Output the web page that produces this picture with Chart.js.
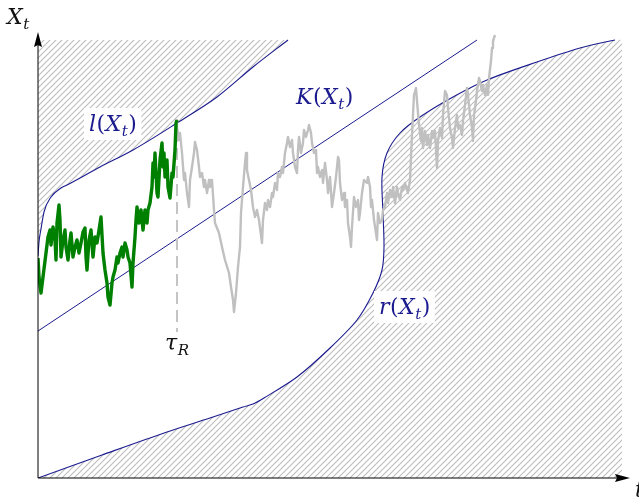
<!DOCTYPE html>
<html>
<head>
<meta charset="utf-8">
<script src="https://cdn.jsdelivr.net/npm/chart.js@4.4.1/dist/chart.umd.min.js"></script>
<style>
  html, body { margin: 0; padding: 0; background: #fff; }
</style>
</head>
<body>
<canvas id="chart" width="639" height="499"></canvas>
<script>
// time axis t and state X_t, both
const tMax = 592;
const xMax = 446;

// upper boundary l(X_t)
const lT = [0, 1, 3, 6, 13, 23, 29, 62, 95, 139, 179, 215, 250];
const lX = [222, 236, 249, 266, 281, 290, 293, 311, 328, 355, 381, 411, 438];

// lower boundary r(X_t), last point closes the hatched area on the right
const rT = [0, 64, 129, 172, 205, 215, 226, 259, 292, 319, 335, 344, 346, 345, 344, 349, 362, 382, 415, 449, 499, 542, 577, 584];
const rX = [0, 23, 46, 60, 71, 74, 80, 101, 130, 158, 185, 208, 231, 265, 301, 325, 345, 361, 381, 398, 416, 430, 438, 438];

// K(X_t)
const kT = [0, 439];
const kX = [147, 438];

// path up to tau_R (green)
const greenT = [0,1,3,5,8,10,12,13,15,17,18,19,21,22,23,25,27,28,30,32,33,35,37,39,41,43,45,47,48,49,51,53,55,57,59,61,63,65,67,69,70,72,74,75,77,79,80,82,84,85,87,89,90,92,94,95,97,98,99,101,103,104,105,107,109,110,112,114,115,116,117,119,120,122,124,125,126,127,129,130,132,134,135,137,138,139];
const greenX = [220,201,185,201,225,241,248,233,251,238,218,255,273,258,221,238,248,231,218,238,245,221,231,238,225,235,246,250,221,208,238,248,221,241,235,248,261,225,208,195,181,173,195,201,208,221,215,225,231,221,235,228,221,215,191,215,241,258,271,255,268,258,248,268,255,268,275,291,315,301,325,285,281,318,335,311,325,301,318,291,280,305,301,328,355,358];

// path after tau_R (gray)
const grayT = [139,139,141,142,144,146,147,149,151,152,154,156,157,159,161,162,164,166,167,169,171,172,174,176,177,181,184,187,191,193,195,196,198,200,202,203,205,207,208,209,211,213,215,217,219,221,224,225,227,229,230,232,234,235,237,239,240,242,244,245,247,249,250,252,254,255,257,259,260,261,263,265,266,268,270,271,273,274,276,278,279,280,282,284,285,287,289,290,292,294,296,298,300,301,302,304,306,307,309,310,312,313,314,316,318,320,321,322,324,326,329,330,332,333,334,336,338,339,340,342,344,345,347,349,350,352,354,355,357,359,360,362,364,365,367,369,370,372,374,376,378,379,381,383,384,385,387,389,390,392,394,395,397,399,400,402,404,405,407,409,410,412,414,415,417,419,420,422,424,425,427,429,430,432,434,435,436,438,439,441,442,444,445,447,449,450,451,453,454,455,457];
const grayX = [358,351,338,345,325,298,305,285,271,298,311,325,336,328,311,301,305,291,298,285,298,291,298,268,255,245,231,218,205,191,178,166,185,211,231,265,291,315,325,308,298,288,271,261,268,258,235,258,275,268,278,271,285,281,295,288,305,301,311,305,325,335,341,331,338,325,311,305,328,341,325,335,348,341,348,353,345,335,325,328,305,311,301,308,295,315,298,285,301,271,285,301,321,318,295,278,285,271,278,255,241,231,251,281,271,278,258,265,285,298,295,301,291,271,278,258,245,238,265,255,258,268,271,285,275,288,281,291,275,291,285,278,291,288,295,288,285,298,343,383,390,377,353,337,350,330,347,333,343,330,347,340,347,310,337,350,340,363,387,383,370,350,340,330,350,363,350,353,343,357,373,390,383,363,350,337,363,377,387,400,397,387,393,383,393,383,400,417,430,437,443];

// stopping time tau_R
const tauT = 139;
const tauX = [348, 146];

const blue = '#1b1b8f';
const serif = '"DejaVu Serif", "Liberation Serif", serif';
const pts = (ts, xs) => ts.map((t, i) => ({ x: t, y: xs[i] }));

function makeHatch(ctx) {
    const s = 6;
    const c = document.createElement('canvas');
    c.width = s; c.height = s;
    const g = c.getContext('2d');
    g.strokeStyle = '#bdbdbd';
    g.lineWidth = 1.1;
    g.beginPath();
    g.moveTo(0, s); g.lineTo(s, 0);
    g.moveTo(-1, 1); g.lineTo(1, -1);
    g.moveTo(s - 1, s + 1); g.lineTo(s + 1, s - 1);
    g.stroke();
    return ctx.createPattern(c, 'repeat');
}

// draws math like l(X_t): parts are [text, 'i' | 'r' | 's']
function mathText(ctx, x, y, parts, color, measureOnly) {
    let cx = x;
    parts.forEach(([txt, kind]) => {
        if (kind === 's') ctx.font = 'italic 15px ' + serif;
        else if (kind === 'i') ctx.font = 'italic 22px ' + serif;
        else ctx.font = '22px ' + serif;
        const w = ctx.measureText(txt).width;
        if (!measureOnly) {
            ctx.fillStyle = color;
            ctx.fillText(txt, cx, kind === 's' ? y + 5 : y);
        }
        cx += w + 0.5;
    });
    return cx - x;
}

const labels = [
    { t: 51, X: 347, parts: [['l', 'i'], ['(', 'r'], ['X', 'i'], ['t', 's'], [')', 'r']], color: blue, box: true },
    { t: 258, X: 374, parts: [['K', 'i'], ['(', 'r'], ['X', 'i'], ['t', 's'], [')', 'r']], color: blue, box: false },
    { t: 341, X: 164, parts: [['r', 'i'], ['(', 'r'], ['X', 'i'], ['t', 's'], [')', 'r']], color: blue, box: true },
    { t: 127, X: 128, parts: [['τ', 'i'], ['R', 's']], color: '#111', box: false },
    { t: -31, X: 454, parts: [['X', 'i'], ['t', 's']], color: '#111', box: false },
    { t: 597, X: -19, parts: [['t', 'i']], color: '#111', box: false }
];

const axesPlugin = {
    id: 'axesArrows',
    afterDatasetsDraw(chart) {
        const { ctx, scales: { x, y } } = chart;
        const x0 = x.getPixelForValue(0), y0 = y.getPixelForValue(0);
        const xe = x.getPixelForValue(tMax), ye = y.getPixelForValue(xMax);
        ctx.save();
        ctx.strokeStyle = '#000';
        ctx.fillStyle = '#000';
        ctx.lineWidth = 1;
        ctx.beginPath();
        ctx.moveTo(x0, y0); ctx.lineTo(xe - 10, y0);
        ctx.moveTo(x0, y0); ctx.lineTo(x0, ye + 10);
        ctx.stroke();
        ctx.beginPath();
        ctx.moveTo(xe, y0); ctx.lineTo(xe - 15, y0 - 4); ctx.lineTo(xe - 13, y0); ctx.lineTo(xe - 15, y0 + 4); ctx.closePath();
        ctx.fill();
        ctx.beginPath();
        ctx.moveTo(x0, ye); ctx.lineTo(x0 - 4, ye + 15); ctx.lineTo(x0, ye + 13); ctx.lineTo(x0 + 4, ye + 15); ctx.closePath();
        ctx.fill();

        labels.forEach(lb => {
            const px = x.getPixelForValue(lb.t), py = y.getPixelForValue(lb.X);
            if (lb.box) {
                const w = mathText(ctx, px, py, lb.parts, lb.color, true);
                ctx.fillStyle = '#fff';
                ctx.fillRect(px - 5, py - 23, w + 9, 32);
            }
            mathText(ctx, px, py, lb.parts, lb.color, false);
        });
        ctx.restore();
    }
};

const canvas = document.getElementById('chart');
const hatch = makeHatch(canvas.getContext('2d'));
const lastR = rT.length - 2;

new Chart(canvas, {
    type: 'line',
    data: {
        datasets: [
            { data: pts(greenT, greenX), borderColor: '#008000', borderWidth: 3.4, borderJoinStyle: 'round', order: 0 },
            { data: pts([tauT, tauT], tauX), borderColor: '#c4c4c4', borderWidth: 2, borderDash: [12, 6], order: 1 },
            { data: pts(grayT, grayX), borderColor: '#c0c0c0', borderWidth: 2.4, borderJoinStyle: 'round', order: 2 },
            { data: pts(kT, kX), borderColor: blue, borderWidth: 1, order: 3 },
            {
                data: pts(lT, lX), borderColor: blue, borderWidth: 1.1,
                cubicInterpolationMode: 'monotone',
                fill: { value: 438 }, backgroundColor: hatch, order: 4
            },
            {
                data: pts(rT, rX), borderWidth: 1.1, tension: 0.3,
                segment: { borderColor: c => c.p0DataIndex >= lastR ? 'rgba(0,0,0,0)' : blue },
                borderColor: blue,
                fill: { value: 0 }, backgroundColor: hatch, order: 5
            }
        ]
    },
    options: {
        responsive: false,
        animation: false,
        elements: { point: { radius: 0 }, line: { tension: 0 } },
        layout: { padding: { left: 38, right: 9, top: 32, bottom: 21 } },
        scales: {
            x: { type: 'linear', min: 0, max: tMax, display: false },
            y: { type: 'linear', min: 0, max: xMax, display: false }
        },
        plugins: { legend: { display: false }, tooltip: { enabled: false } }
    },
    plugins: [axesPlugin]
});
</script>
</body>
</html>
